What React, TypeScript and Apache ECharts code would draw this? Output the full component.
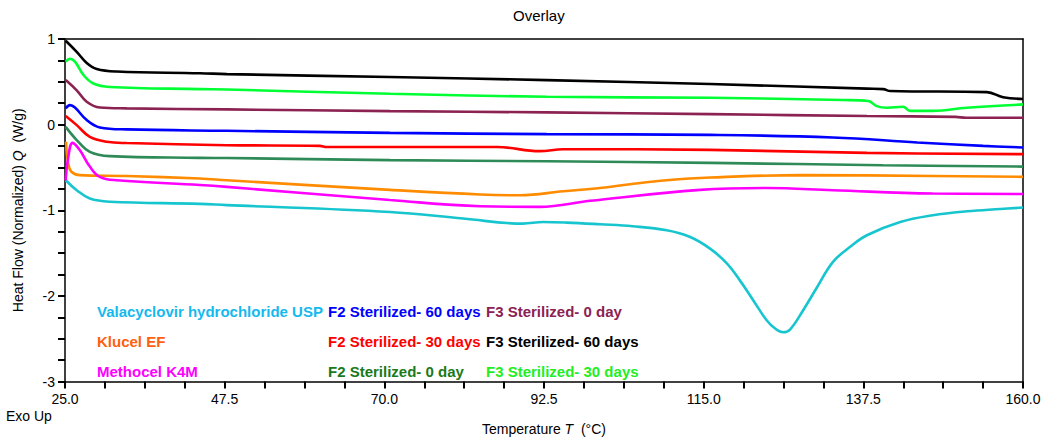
import React, { useEffect, useRef } from "react";
import * as echarts from "echarts";

const FONT = "'Liberation Sans', Arial, Helvetica, sans-serif";

// Temperature (°C), Heat flow (W/g)
const valacyclovir: [number, number][] = [
  [25.1, -0.65], [26.65, -0.766], [28.5, -0.863], [31.3, -0.9], [44, -0.925], [47.8, -0.94],
  [70.8, -1.02], [81.1, -1.097], [89.5, -1.156], [92.4, -1.137], [95.7, -1.144], [100.4, -1.164],
  [105, -1.187], [109.8, -1.234], [113.1, -1.312], [115.9, -1.448], [118.3, -1.623], [120.1, -1.819],
  [122, -2.053], [123.9, -2.287], [125.2, -2.39], [126.2, -2.425], [127.2, -2.39], [129, -2.17],
  [131, -1.897], [133.2, -1.605], [135.6, -1.43], [138, -1.292], [142.7, -1.137], [147.3, -1.058],
  [152.1, -1.012], [156.8, -0.985], [160, -0.968],
];
const klucel: [number, number][] = [
  [25.15, -0.2], [25.45, -0.45], [25.9, -0.55], [27.1, -0.59], [33.7, -0.6], [44, -0.63],
  [47.8, -0.65], [70.8, -0.762], [83.5, -0.816], [89.1, -0.825], [95.2, -0.778], [100.4, -0.74],
  [104.6, -0.696], [109.8, -0.65], [115.9, -0.618], [128.6, -0.59], [147.3, -0.6], [160, -0.61],
];
const methocel: [number, number][] = [
  [25.1, -0.65], [25.4, -0.415], [26.08, -0.213], [27.1, -0.3], [28.5, -0.49], [29.9, -0.61],
  [32.3, -0.65], [44, -0.705], [47.8, -0.727], [70.8, -0.88], [83.5, -0.953], [91.9, -0.96],
  [99, -0.89], [114.5, -0.762], [123.9, -0.74], [133.2, -0.766], [147.3, -0.805], [160, -0.81],
];
const f2d60: [number, number][] = [
  [25.1, 0.19], [25.7, 0.228], [26.4, 0.2], [28.06, 0.053], [29.9, -0.033], [33.7, -0.056],
  [47.8, -0.072], [70.8, -0.096], [92.9, -0.111], [115.9, -0.12], [133.2, -0.15], [145.1, -0.208],
  [154.4, -0.248], [160, -0.267],
];
const f2d30: [number, number][] = [
  [25.1, 0.1], [26.65, -0.006], [28.5, -0.143], [30.9, -0.2], [33.7, -0.215], [47.8, -0.24],
  [60.9, -0.248], [61.9, -0.262], [85.9, -0.262], [91.9, -0.31], [95.2, -0.287], [115.9, -0.295],
  [138, -0.33], [160, -0.345],
];
const f2d0: [number, number][] = [
  [25.1, -0.026], [26.65, -0.18], [28.5, -0.318], [31.3, -0.368], [44, -0.388], [47.8, -0.39],
  [70.8, -0.415], [92.9, -0.427], [115.9, -0.447], [140.3, -0.474], [160, -0.49],
];
const f3d0: [number, number][] = [
  [25.1, 0.52], [26.65, 0.4], [28.06, 0.267], [29.9, 0.2], [33.7, 0.19], [47.8, 0.178],
  [70.8, 0.158], [92.9, 0.143], [115.9, 0.123], [138, 0.1], [150.5, 0.09], [152, 0.08], [160, 0.08],
];
const f3d60: [number, number][] = [
  [25.1, 0.98], [26.65, 0.85], [28.06, 0.72], [29.47, 0.65], [32.3, 0.62], [44, 0.6],
  [47.8, 0.59], [70.8, 0.556], [92.9, 0.52], [115.9, 0.474], [138, 0.42], [140.3, 0.415],
  [141.3, 0.392], [154.9, 0.38], [157.2, 0.32], [160, 0.3],
];
const f3d30: [number, number][] = [
  [25.1, 0.735], [25.7, 0.77], [26.4, 0.735], [27.6, 0.58], [29, 0.48], [31.3, 0.44], [44, 0.415],
  [47.8, 0.41], [70.8, 0.36], [92.9, 0.325], [115.9, 0.313], [134.6, 0.287], [138.2, 0.275],
  [139.4, 0.216], [140.8, 0.197], [143.1, 0.208], [144.1, 0.161], [147.3, 0.161], [152.1, 0.197],
  [160, 0.236],
];

const seriesDefs = [
  { name: "Valacyclovir hydrochloride USP", data: valacyclovir, line: "#17C5CF", text: "#14B9EE" },
  { name: "Klucel EF", data: klucel, line: "#FF8C00", text: "#FF5F0F" },
  { name: "Methocel K4M", data: methocel, line: "#FF00FF", text: "#FF00FF" },
  { name: "F2 Sterilized- 60 days", data: f2d60, line: "#0000FF", text: "#0000FF" },
  { name: "F2 Sterilized- 30 days", data: f2d30, line: "#FF0000", text: "#FF0000" },
  { name: "F2 Sterilized- 0 day", data: f2d0, line: "#2E8B57", text: "#1A7A1A" },
  { name: "F3 Sterilized- 0 day", data: f3d0, line: "#8B2252", text: "#8B2252" },
  { name: "F3 Sterilized- 60 days", data: f3d60, line: "#000000", text: "#000000" },
  { name: "F3 Sterilized- 30 days", data: f3d30, line: "#00FF33", text: "#22EE22" },
];

const legendColumns = [
  ["Valacyclovir hydrochloride USP", "Klucel EF", "Methocel K4M"],
  ["F2 Sterilized- 60 days", "F2 Sterilized- 30 days", "F2 Sterilized- 0 day"],
  ["F3 Sterilized- 0 day", "F3 Sterilized- 60 days", "F3 Sterilized- 30 days"],
];
const legendLefts = [92, 323, 481];

const xMin = 25;
const xMax = 160;
const yMin = -3;
const yMax = 1;
const xLabelValues = [25, 47.5, 70, 92.5, 115, 137.5, 160];
const xTickStep = 5.625;
const xTickValues: number[] = [];
for (let v = xMin; v <= xMax + 1e-9; v += xTickStep) xTickValues.push(+v.toFixed(4));

export default function App() {
  const ref = useRef<HTMLDivElement>(null);
  useEffect(() => {
    document.body.style.margin = "0";
    if (!ref.current) return;
    const chart = echarts.init(ref.current, undefined, { renderer: "svg" });
    const colorOf = (n: string) => seriesDefs.find((s) => s.name === n)!.text;
    const rich = {
      a: { fontFamily: FONT, fontSize: 14, color: "#000" },
      i: { fontFamily: FONT, fontSize: 14, fontStyle: "italic", color: "#000" },
    };
    const tickLine = { color: "#000", width: 2 };
    const frameAxis = {
      type: "value",
      axisLine: { show: true, onZero: false, lineStyle: { color: "#000", width: 1.5 } },
      axisTick: { show: false },
      axisLabel: { show: false },
      splitLine: { show: false },
    };
    chart.setOption({
      animation: false,
      title: {
        text: "Overlay",
        left: 508,
        top: 3,
        textStyle: { fontFamily: FONT, fontSize: 15, fontWeight: "normal", color: "#000" },
      },
      legend: legendColumns.map((col, i) => ({
        orient: "vertical",
        left: legendLefts[i],
        top: 303,
        itemGap: 14,
        itemWidth: 0,
        itemHeight: 0,
        icon: "none",
        selectedMode: false,
        padding: 0,
        data: col.map((n) => ({ name: n, textStyle: { color: colorOf(n) } })),
        textStyle: { fontFamily: FONT, fontSize: 15, fontWeight: "bold", lineHeight: 16 },
      })),
      grid: { left: 65, right: 27, top: 39, bottom: 62.5 },
      xAxis: [
        {
          type: "value",
          min: xMin,
          max: xMax,
          name: "{a|Temperature }{i|T}{a|  (°C)}",
          nameLocation: "middle",
          nameGap: 40,
          nameTextStyle: { rich },
          axisLine: { show: true, onZero: false, lineStyle: { color: "#000", width: 1.5 } },
          axisTick: { show: true, length: 7, lineStyle: tickLine, customValues: xTickValues },
          axisLabel: {
            customValues: xLabelValues,
            formatter: (v: number) => v.toFixed(1),
            fontFamily: FONT,
            fontSize: 14,
            color: "#000",
            margin: 10,
          },
          splitLine: { show: false },
        },
        { ...frameAxis, position: "top", min: xMin, max: xMax },
      ],
      yAxis: [
        {
          type: "value",
          min: yMin,
          max: yMax,
          interval: 1,
          name: "{a|Heat Flow (Normalized) }{i|Q}{a|  (W/g)}",
          nameLocation: "middle",
          nameGap: 40,
          nameRotate: 90,
          nameTextStyle: { rich },
          axisLine: { show: true, onZero: false, lineStyle: { color: "#000", width: 1.5 } },
          axisTick: { show: true, length: 7, lineStyle: tickLine },
          minorTick: { show: true, splitNumber: 4, length: 7, lineStyle: tickLine },
          axisLabel: { fontFamily: FONT, fontSize: 14, color: "#000", margin: 10 },
          splitLine: { show: false },
          minorSplitLine: { show: false },
        },
        { ...frameAxis, position: "right", min: yMin, max: yMax },
      ],
      graphic: [
        {
          type: "text",
          left: 6,
          top: 409,
          style: { text: "Exo Up", fontFamily: FONT, fontSize: 14, fill: "#000" },
        },
      ],
      series: seriesDefs.map((s) => ({
        type: "line",
        name: s.name,
        data: s.data,
        xAxisIndex: 0,
        yAxisIndex: 0,
        showSymbol: false,
        smooth: 0.4,
        lineStyle: { color: s.line, width: 2.6 },
        itemStyle: { color: s.line },
      })),
    });
    return () => chart.dispose();
  }, []);
  return <div ref={ref} style={{ width: 1050, height: 444 }} />;
}
